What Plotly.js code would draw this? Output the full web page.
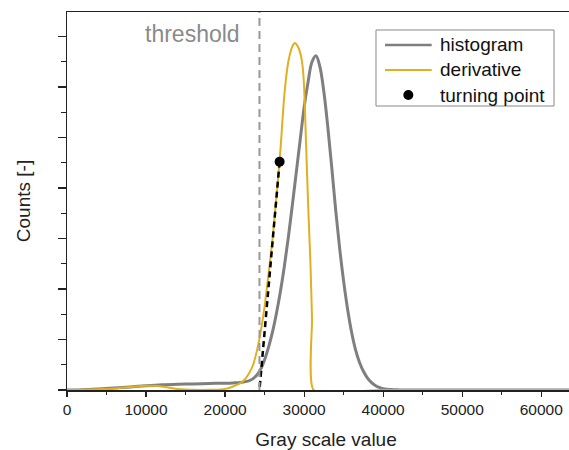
<!DOCTYPE html>
<html>
<head>
<meta charset="utf-8">
<script src="https://cdn.plot.ly/plotly-3.0.1.min.js"></script>
<style>
  html, body { margin: 0; padding: 0; overflow: hidden; background: #fff; }
  #chart { width: 600px; height: 450px; }
</style>
</head>
<body>
<div id="chart"></div>
<script>
// Histogram of gray values (arbitrary count units)
const histX = [0, 2000, 4000, 6000, 8000, 10000, 12000, 14000, 16000, 18000, 20000, 21000, 22000, 23000, 23500, 24000, 24500, 25000, 25500, 26000, 26500, 27000, 27500, 28000, 28500, 29000, 29500, 30000, 30500, 31000, 31500, 32000, 32500, 33000, 33500, 34000, 34500, 35000, 35500, 36000, 36500, 37000, 37500, 38000, 38500, 39000, 39500, 40000, 41000, 42000, 43000, 55000, 65535];
const histY = [0, 0.005, 0.02, 0.04, 0.06, 0.085, 0.105, 0.115, 0.12, 0.13, 0.135, 0.14, 0.15, 0.18, 0.22, 0.29, 0.41, 0.6, 0.85, 1.15, 1.52, 1.95, 2.45, 3.02, 3.65, 4.3, 4.95, 5.6, 6.1, 6.5, 6.62, 6.4, 5.9, 5.2, 4.4, 3.55, 2.8, 2.15, 1.6, 1.15, 0.8, 0.55, 0.37, 0.24, 0.15, 0.09, 0.05, 0.025, 0.008, 0.002, 0, 0, 0];

// Derivative of the histogram (scaled)
const derivX = [0, 2000, 4000, 6000, 8000, 10000, 11000, 12000, 13000, 14000, 15000, 16000, 18000, 19500, 20500, 21000, 22000, 22500, 23000, 23500, 24000, 24500, 25000, 25500, 26000, 26500, 27000, 27500, 28000, 28500, 28840, 29200, 29500, 29800, 30000, 30250, 30500, 30800, 31000, 31200, 40000, 65535];
const derivY = [0, 0.005, 0.015, 0.03, 0.06, 0.085, 0.085, 0.07, 0.045, 0.02, 0.008, 0.003, 0.003, 0.01, 0.04, 0.07, 0.14, 0.21, 0.32, 0.48, 0.76, 1.15, 1.65, 2.3, 2.98, 3.83, 4.75, 5.85, 6.5, 6.8, 6.87, 6.8, 6.68, 6.42, 6.0, 4.85, 3.7, 2.5, 1.4, 0, 0, 0];

// Turning point and tangent to threshold
const turnX = [26900];
const turnY = [4.52];
const threshold = 24350;
const tangentX = [turnX[0], threshold];
const tangentY = [turnY[0], 0];

const legendNames = ['histogram', 'derivative', 'turning point'];
const xTitle = 'Gray scale value';
const yTitle = 'Counts [-]';
const thresholdLabel = 'threshold';

const FONT = 'Liberation Sans, Arial, Helvetica, sans-serif';
const GRAY = '#7f7f7f';
const GOLD = '#e0b020';

const traces = [
  {
    x: histX, y: histY, type: 'scatter', mode: 'lines', name: legendNames[0],
    line: { color: GRAY, width: 3, shape: 'spline', smoothing: 1 }
  },
  {
    x: derivX, y: derivY, type: 'scatter', mode: 'lines', name: legendNames[1],
    line: { color: GOLD, width: 2, shape: 'spline', smoothing: 0.5 }
  },
  {
    x: tangentX, y: tangentY, type: 'scatter', mode: 'lines', name: 'tangent',
    line: { color: '#000', width: 2.5, dash: '6px,4px' }
  },
  {
    x: turnX, y: turnY, type: 'scatter', mode: 'markers', name: legendNames[2],
    marker: { color: '#000', size: 10 }
  }
];

// Legend box (drawn as decoration in paper coordinates)
const legBox = { x0: 0.5965, x1: 0.9402, y0: 0.7513, y1: 0.9524 };
const legRows = [0.9127, 0.8466, 0.7804];
const legLine = { x0: 0.6139, x1: 0.7040 };
const legTextX = 0.7156;

const shapes = [
  {
    type: 'line', xref: 'x', yref: 'paper', x0: threshold, x1: threshold, y0: 0, y1: 1,
    line: { color: '#999', width: 2, dash: '8px,5px' }
  },
  {
    type: 'rect', xref: 'paper', yref: 'paper',
    x0: legBox.x0, x1: legBox.x1, y0: legBox.y0, y1: legBox.y1,
    line: { color: '#888', width: 1 }, fillcolor: 'rgba(255,255,255,0)'
  },
  {
    type: 'line', xref: 'paper', yref: 'paper', x0: legLine.x0, x1: legLine.x1,
    y0: legRows[0], y1: legRows[0], line: { color: GRAY, width: 2.5 }
  },
  {
    type: 'line', xref: 'paper', yref: 'paper', x0: legLine.x0, x1: legLine.x1,
    y0: legRows[1], y1: legRows[1], line: { color: GOLD, width: 2 }
  },
  {
    type: 'circle', xref: 'paper', yref: 'paper', xsizemode: 'pixel', ysizemode: 'pixel',
    xanchor: (legLine.x0 + legLine.x1) / 2, yanchor: legRows[2],
    x0: -5, x1: 5, y0: -5, y1: 5, fillcolor: '#000', line: { color: '#000', width: 0 }
  }
];

const annotations = [
  {
    text: thresholdLabel, xref: 'x', yref: 'paper', x: threshold, y: 0.943,
    xanchor: 'right', yanchor: 'middle', xshift: -17, showarrow: false,
    font: { family: FONT, size: 23, color: '#8a8a8a' }
  }
].concat(legendNames.map((n, i) => ({
  text: n, xref: 'paper', yref: 'paper', x: legTextX, y: legRows[i],
  xanchor: 'left', yanchor: 'middle', showarrow: false,
  font: { family: FONT, size: 19, color: '#111' }
})));

const layout = {
  width: 600, height: 450,
  margin: { l: 67, r: 15, t: 12, b: 60 },
  paper_bgcolor: '#fff', plot_bgcolor: '#fff',
  font: { family: FONT, color: '#222' },
  showlegend: false,
  xaxis: {
    range: [0, 65535], dtick: 10000, tick0: 0, tickformat: 'd',
    showgrid: false, zeroline: false,
    showline: true, linecolor: '#222', linewidth: 1.5, mirror: true,
    ticks: 'outside', ticklen: 5, tickwidth: 1.2, tickcolor: '#222',
    minor: { dtick: 5000, ticks: 'outside', ticklen: 3, tickwidth: 1.2, tickcolor: '#222' },
    tickfont: { family: FONT, size: 15.5, color: '#222' },
    title: { text: xTitle, font: { family: FONT, size: 19, color: '#222' }, standoff: 16 }
  },
  yaxis: {
    range: [0, 7.485], dtick: 1, tick0: 0,
    showgrid: false, zeroline: false, showticklabels: false,
    showline: true, linecolor: '#222', linewidth: 1.5,
    ticks: 'outside', ticklen: 8, tickwidth: 1.2, tickcolor: '#222',
    minor: { dtick: 0.5, ticks: 'outside', ticklen: 5, tickwidth: 1.2, tickcolor: '#222' },
    title: { text: yTitle, font: { family: FONT, size: 19, color: '#222' }, standoff: 22 }
  },
  shapes: shapes,
  annotations: annotations
};

Plotly.newPlot('chart', traces, layout, { displayModeBar: false, staticPlot: true });
</script>
</body>
</html>
